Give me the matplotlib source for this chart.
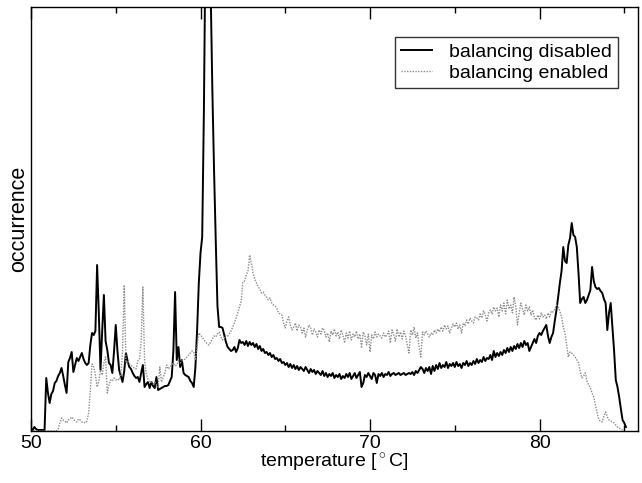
import numpy as np
import matplotlib
matplotlib.use("Agg")
import matplotlib.pyplot as plt

plt.rcParams['font.family'] = ['Liberation Sans', 'DejaVu Sans']
plt.rcParams['mathtext.fontset'] = 'custom'
plt.rcParams['mathtext.rm'] = 'Liberation Sans'
plt.rcParams['mathtext.it'] = 'Liberation Sans:italic'
plt.rcParams['mathtext.bf'] = 'Liberation Sans:bold'

# histogram bins: 0.1 degC starting at 50.0
t_start = 50.0
t_step = 0.1

balancing_disabled = [
    2, 1, 4, 2, 1, 1, 1, 1, 1, 53,                 # 50
    38, 28, 37, 40, 48, 50, 55, 58, 63, 55,        # 51
    46, 38, 69, 73, 79, 59, 66, 73, 70, 74,        # 52
    78, 72, 68, 66, 68, 86, 98, 96, 100, 166,      # 53
    118, 61, 100, 136, 90, 81, 68, 66, 58, 80,     # 54
    106, 80, 61, 55, 49, 60, 78, 70, 64, 62,       # 55
    58, 55, 53, 54, 49, 58, 66, 44, 47, 49,        # 56
    43, 49, 45, 43, 54, 41, 42, 43, 44, 45,        # 57
    45, 46, 50, 54, 80, 139, 71, 84, 64, 71,       # 58
    58, 56, 55, 54, 50, 48, 44, 64, 101, 148,      # 59
    178, 194, 320, 500, 640, 620, 440, 340, 260, 190,  # 60
    125, 104, 104, 103, 96, 89, 84, 82, 80, 81,    # 61
    84, 79, 83, 91, 88, 89, 86, 90, 85, 89,        # 62
    86, 88, 84, 87, 82, 85, 80, 82, 78, 79,        # 63
    76, 78, 74, 76, 72, 73, 70, 72, 68, 69,        # 64
    66, 68, 64, 67, 63, 66, 62, 65, 61, 64,        # 65
    62, 60, 64, 61, 58, 62, 59, 61, 57, 60,        # 66
    58, 56, 60, 55, 58, 54, 57, 55, 58, 53,        # 67
    56, 54, 57, 52, 55, 53, 57, 54, 58, 52,        # 68
    55, 58, 53, 56, 59, 44, 48, 56, 54, 58,        # 69
    55, 52, 58, 56, 48, 57, 55, 58, 54, 57,        # 70
    56, 59, 55, 57, 58, 56, 57, 58, 56, 57,        # 71
    58, 56, 57, 58, 57, 59, 56, 60, 58, 61,        # 72
    64, 62, 58, 63, 60, 64, 57, 65, 60, 66,        # 73
    62, 68, 63, 66, 64, 69, 63, 67, 65, 68,        # 74
    64, 69, 65, 67, 63, 68, 66, 70, 65, 68,        # 75
    66, 70, 67, 72, 68, 71, 69, 74, 70, 73,        # 76
    72, 76, 71, 80, 74, 78, 75, 79, 76, 81,        # 77
    78, 83, 79, 84, 80, 85, 82, 87, 83, 88,        # 78
    84, 90, 86, 88, 80, 84, 88, 92, 88, 95,        # 79
    98, 96, 100, 103, 106, 95, 88, 94, 98, 110,    # 80
    121, 134, 148, 160, 184, 170, 168, 186, 193, 208,  # 81
    196, 194, 184, 158, 128, 132, 134, 128, 131, 136,  # 82
    141, 164, 150, 144, 142, 143, 140, 138, 132, 128,  # 83
    101, 118, 128, 104, 80, 51, 44, 34, 22, 11,    # 84
    8, 4,                                          # 85
]

balancing_enabled = [
    0, 0, 0, 0, 0, 0, 0, 0, 0, 0,                  # 50
    0, 0, 0, 0, 0, 0, 2, 8, 13, 11,                # 51
    10, 8, 11, 12, 14, 12, 10, 9, 12, 11,          # 52
    9, 9, 8, 10, 18, 40, 67, 64, 56, 44,           # 53
    50, 61, 56, 68, 74, 38, 46, 51, 50, 53,        # 54
    51, 52, 51, 56, 80, 146, 68, 70, 67, 66,       # 55
    64, 63, 62, 70, 72, 90, 144, 70, 57, 52,       # 56
    48, 50, 47, 49, 46, 44, 64, 49, 54, 58,        # 57
    66, 62, 64, 66, 68, 65, 66, 70, 68, 70,        # 58
    71, 72, 74, 76, 78, 80, 79, 71, 85, 98,        # 59
    96, 94, 91, 89, 87, 86, 89, 92, 95, 94,        # 60
    97, 99, 94, 91, 93, 96, 95, 97, 100, 104,      # 61
    108, 113, 118, 124, 130, 149, 150, 156, 160, 176,  # 62
    168, 158, 152, 148, 144, 142, 138, 139, 136, 134,  # 63
    131, 133, 128, 126, 125, 123, 118, 117, 116, 108,  # 64
    103, 110, 114, 106, 101, 104, 108, 100, 106, 104,  # 65
    98, 103, 94, 101, 106, 103, 96, 102, 99, 94,   # 66
    101, 97, 103, 101, 94, 98, 89, 100, 96, 102,   # 67
    95, 99, 92, 101, 96, 88, 98, 93, 100, 91,      # 68
    97, 94, 100, 92, 97, 83, 99, 95, 86, 97,       # 69
    79, 96, 92, 99, 94, 97, 95, 93, 98, 94,        # 70
    96, 100, 88, 101, 96, 90, 102, 94, 99, 92,     # 71
    100, 95, 86, 78, 101, 96, 104, 93, 98, 84,     # 72
    74, 99, 96, 100, 97, 94, 98, 96, 101, 98,      # 73
    102, 99, 104, 100, 106, 102, 105, 98, 103, 107,  # 74
    104, 108, 102, 106, 98, 108, 105, 111, 107, 113,  # 75
    110, 108, 114, 113, 111, 117, 113, 120, 116, 110,  # 76
    118, 121, 117, 124, 120, 123, 114, 126, 120, 128,  # 77
    117, 131, 122, 126, 118, 134, 124, 106, 118, 128,  # 78
    122, 116, 126, 120, 124, 116, 121, 113, 111, 116,  # 79
    112, 118, 114, 116, 112, 118, 114, 120, 119, 122,  # 80
    126, 124, 120, 114, 104, 98, 86, 74, 79, 78,   # 81
    76, 74, 71, 68, 60, 53, 55, 58, 50, 46,        # 82
    43, 38, 34, 26, 18, 11, 10, 9, 15, 19,         # 83
    14, 11, 10, 9, 8, 6, 4, 3, 2, 1,               # 84
]

x_ticks = [50, 60, 70, 80]
x_minor = [55, 65, 75, 85]

t_dis = t_start + t_step * np.arange(len(balancing_disabled))
t_en = t_start + t_step * np.arange(len(balancing_enabled))

fig = plt.figure(figsize=(6.42, 4.83), dpi=100)
ax = fig.add_axes([31 / 642, 52 / 483, 607 / 642, 424 / 483])

ax.plot(t_dis, balancing_disabled, color='black', lw=1.4, ls='-',
        label='balancing disabled')
ax.plot(t_en, balancing_enabled, color='#8c8c8c', lw=1.0, ls=(0, (1, 1)),
        label='balancing enabled')

ax.set_xlim(50, 85.81)
ax.set_ylim(0, 424)
ax.set_xticks(x_ticks)
ax.set_xticklabels([str(v) for v in x_ticks])
ax.set_xticks(x_minor, minor=True)
ax.set_yticks([])
ax.tick_params(axis='x', which='major', direction='in', top=True, bottom=True,
               length=8.5, width=1, labelsize=14, pad=3)
ax.tick_params(axis='x', which='minor', direction='in', top=True, bottom=True,
               length=4.5, width=1)
for s in ax.spines.values():
    s.set_linewidth(1.0)

ax.set_xlabel(r'temperature [$^\circ$C]', fontsize=14, labelpad=0)
ax.set_ylabel('occurrence', fontsize=15.5, labelpad=1)

leg = ax.legend(loc='upper right', bbox_to_anchor=(0.967, 0.929),
                fontsize=14, frameon=True, fancybox=False,
                edgecolor='black', borderaxespad=0, handlelength=1.6,
                handletextpad=0.9, borderpad=0.3, labelspacing=0.2)
leg.get_frame().set_linewidth(1.0)

fig.savefig('out.png', dpi=100)
